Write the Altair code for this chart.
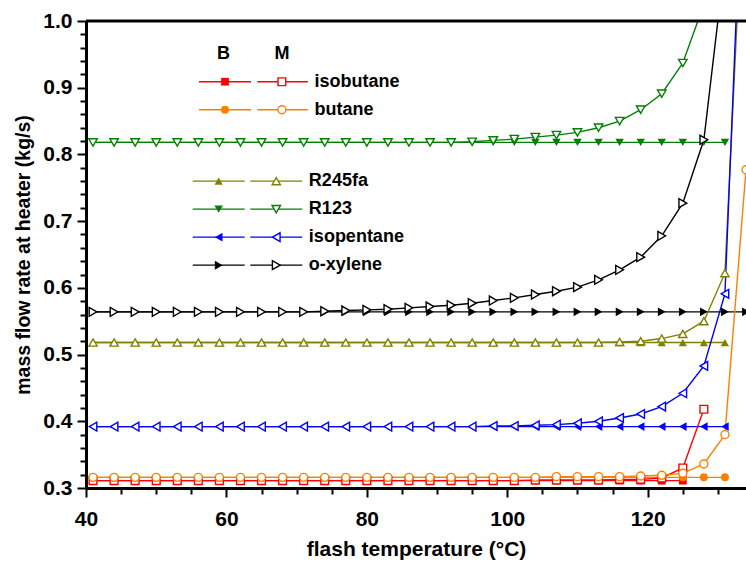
import altair as alt
import pandas as pd

# Flash temperature (°C) of each computed state point
T = [41, 44, 47, 50, 53, 56, 59, 62, 65, 68, 71, 74, 77, 80, 83, 86,
     89, 92, 95, 98, 101, 104, 107, 110, 113, 116, 119, 122, 125, 128, 131, 134]

FLUIDS = ["isobutane", "butane", "R245fa", "R123", "isopentane", "o-xylene"]
COLORS = ["#ff0000", "#ff8000", "#808000", "#008000", "#0000ff", "#000000"]
SHAPES = ["square", "circle", "triangle-up", "triangle-down", "triangle-left", "triangle-right"]

# Mass flow rate at heater (kg/s), basic cycle (B)
isobutane_B = [0.311, 0.311, 0.311, 0.311, 0.311, 0.311, 0.311, 0.311, 0.311, 0.311, 0.311,
               0.311, 0.311, 0.311, 0.311, 0.311, 0.311, 0.311, 0.311, 0.311, 0.311, 0.311,
               0.311, 0.311, 0.311, 0.311, 0.311, 0.311, 0.311, None, None, None]
butane_B = [0.316, 0.316, 0.316, 0.316, 0.316, 0.316, 0.316, 0.316, 0.316, 0.316, 0.316,
            0.316, 0.316, 0.316, 0.316, 0.316, 0.316, 0.316, 0.316, 0.316, 0.316, 0.316,
            0.316, 0.316, 0.316, 0.316, 0.316, 0.316, 0.316, 0.316, 0.316, None]
R245fa_B = [0.518, 0.518, 0.518, 0.518, 0.518, 0.518, 0.518, 0.518, 0.518, 0.518, 0.518,
            0.518, 0.518, 0.518, 0.518, 0.518, 0.518, 0.518, 0.518, 0.518, 0.518, 0.518,
            0.518, 0.518, 0.518, 0.518, 0.518, 0.518, 0.518, 0.518, 0.518, None]
R123_B = [0.818, 0.818, 0.818, 0.818, 0.818, 0.818, 0.818, 0.818, 0.818, 0.818, 0.818,
          0.818, 0.818, 0.818, 0.818, 0.818, 0.818, 0.818, 0.818, 0.818, 0.818, 0.818,
          0.818, 0.818, 0.818, 0.818, 0.818, 0.818, 0.818, 0.818, 0.818, None]
isopentane_B = [0.392, 0.392, 0.392, 0.392, 0.392, 0.392, 0.392, 0.392, 0.392, 0.392, 0.392,
                0.392, 0.392, 0.392, 0.392, 0.392, 0.392, 0.392, 0.392, 0.392, 0.392, 0.392,
                0.392, 0.392, 0.392, 0.392, 0.392, 0.392, 0.392, 0.392, 0.392, None]
oxylene_B = [0.564, 0.564, 0.564, 0.564, 0.564, 0.564, 0.564, 0.564, 0.564, 0.564, 0.564,
             0.564, 0.564, 0.564, 0.564, 0.564, 0.564, 0.564, 0.564, 0.564, 0.564, 0.564,
             0.564, 0.564, 0.564, 0.564, 0.564, 0.564, 0.564, 0.564, 0.564, 0.564]

# Mass flow rate at heater (kg/s), modified cycle (M)
isobutane_M = [0.311, 0.311, 0.311, 0.311, 0.311, 0.311, 0.311, 0.311, 0.311, 0.311, 0.311,
               0.311, 0.311, 0.311, 0.311, 0.311, 0.311, 0.311, 0.311, 0.311, 0.311, 0.312,
               0.312, 0.312, 0.312, 0.313, 0.313, 0.315, 0.330, 0.418, None, None]
butane_M = [0.316, 0.316, 0.316, 0.316, 0.316, 0.316, 0.316, 0.316, 0.316, 0.316, 0.316,
            0.316, 0.316, 0.316, 0.316, 0.316, 0.316, 0.316, 0.316, 0.316, 0.316, 0.316,
            0.317, 0.317, 0.317, 0.317, 0.318, 0.319, 0.322, 0.336, 0.380, 0.777]
R245fa_M = [0.518, 0.518, 0.518, 0.518, 0.518, 0.518, 0.518, 0.518, 0.518, 0.518, 0.518,
            0.518, 0.518, 0.518, 0.518, 0.518, 0.518, 0.518, 0.518, 0.518, 0.518, 0.518,
            0.518, 0.518, 0.518, 0.519, 0.520, 0.524, 0.531, 0.550, 0.622, 1.28]
R123_M = [0.818, 0.818, 0.818, 0.818, 0.818, 0.818, 0.818, 0.818, 0.818, 0.818, 0.818,
          0.818, 0.818, 0.818, 0.818, 0.818, 0.818, 0.818, 0.819, 0.821, 0.823, 0.826,
          0.829, 0.833, 0.840, 0.850, 0.867, 0.891, 0.937, 1.025, None, None]
isopentane_M = [0.392, 0.392, 0.392, 0.392, 0.392, 0.392, 0.392, 0.392, 0.392, 0.392, 0.392,
                0.392, 0.392, 0.392, 0.392, 0.392, 0.392, 0.392, 0.392, 0.393, 0.393, 0.394,
                0.395, 0.397, 0.400, 0.405, 0.411, 0.422, 0.442, 0.483, 0.591, 1.37]
oxylene_M = [0.564, 0.564, 0.564, 0.564, 0.564, 0.564, 0.564, 0.564, 0.564, 0.564, 0.564,
             0.565, 0.566, 0.567, 0.568, 0.570, 0.572, 0.574, 0.577, 0.581, 0.585, 0.590,
             0.595, 0.601, 0.612, 0.627, 0.646, 0.678, 0.727, 0.822, 1.09, None]

SERIES_B = [isobutane_B, butane_B, R245fa_B, R123_B, isopentane_B, oxylene_B]
SERIES_M = [isobutane_M, butane_M, R245fa_M, R123_M, isopentane_M, oxylene_M]

X_TICKS = [40, 45, 50, 55, 60, 65, 70, 75, 80, 85, 90, 95, 100, 105, 110, 115, 120, 125, 130]
Y_TICKS = [0.30, 0.32, 0.34, 0.36, 0.38, 0.40, 0.42, 0.44, 0.46, 0.48, 0.50, 0.52, 0.54,
           0.56, 0.58, 0.60, 0.62, 0.64, 0.66, 0.68, 0.70, 0.72, 0.74, 0.76, 0.78, 0.80,
           0.82, 0.84, 0.86, 0.88, 0.90, 0.92, 0.94, 0.96, 0.98, 1.00]

rows = []
for kind, group in (("B", SERIES_B), ("M", SERIES_M)):
    for fluid, values in zip(FLUIDS, group):
        for t, v in zip(T, values):
            if v is not None:
                rows.append({"fluid": fluid, "cycle": kind, "T": t, "m": v})
df = pd.DataFrame(rows)

FONT = "Liberation Sans"
W, H = 660, 467
X_DOMAIN = [40, 134]
Y_DOMAIN = [0.3, 1.0]

color = alt.Color("fluid:N", scale=alt.Scale(domain=FLUIDS, range=COLORS), legend=None)
shape = alt.Shape("fluid:N", scale=alt.Scale(domain=FLUIDS, range=SHAPES), legend=None)
size_open = alt.Size("fluid:N", scale=alt.Scale(domain=FLUIDS, range=[42, 55, 110, 110, 110, 110]),
                     legend=None)
size_fill = alt.Size("fluid:N", scale=alt.Scale(domain=FLUIDS, range=[60, 80, 150, 150, 150, 150]),
                     legend=None)

MAJOR_Y = "abs(datum.value * 10 - round(datum.value * 10)) < 0.001"

x_axis = alt.Axis(
    values=X_TICKS,
    title="flash temperature (°C)",
    titleFont=FONT, titleFontSize=21, titleFontWeight="bold", titlePadding=9, titleColor="black",
    labelFont=FONT, labelFontSize=21, labelFontWeight="bold", labelColor="black",
    labelExpr="datum.value % 20 === 0 ? datum.label : ''",
    labelPadding=11, labelFlush=False, labelOverlap=False,
    domainColor="black", domainWidth=3,
    tickColor="black", tickWidth=2,
    tickSize={"condition": {"test": "datum.value % 20 === 0", "value": 9}, "value": 6},
    grid=False,
)
y_axis = alt.Axis(
    values=Y_TICKS,
    title="mass flow rate at heater (kg/s)",
    titleFont=FONT, titleFontSize=19.5, titleFontWeight="bold", titlePadding=9, titleColor="black",
    labelFont=FONT, labelFontSize=21, labelFontWeight="bold", labelColor="black",
    labelExpr=MAJOR_Y + " ? format(datum.value, '.1f') : ''",
    labelPadding=5, labelFlush=False, labelOverlap=False,
    domainColor="black", domainWidth=3,
    tickColor="black", tickWidth=2,
    tickSize={"condition": {"test": MAJOR_Y, "value": 9}, "value": 6},
    grid=False,
)


def xq(field):
    return alt.X(f"{field}:Q", scale=alt.Scale(domain=X_DOMAIN, nice=False, zero=False), axis=x_axis)


def yq(field):
    return alt.Y(f"{field}:Q", scale=alt.Scale(domain=Y_DOMAIN, nice=False, zero=False), axis=y_axis)


base = alt.Chart(df).encode(x=xq("T"), y=yq("m"), color=color)

lines = base.mark_line(clip=True, strokeWidth=1.4).encode(detail="cycle:N", order="T:Q")
pts_b = base.transform_filter(alt.datum.cycle == "B").mark_point(
    clip=True, filled=True, opacity=1
).encode(shape=shape, size=size_fill)
pts_m = base.transform_filter(alt.datum.cycle == "M").mark_point(
    clip=True, filled=False, fill="white", opacity=1, strokeWidth=1.4
).encode(shape=shape, size=size_open)

# frame line along the top of the plot
top = alt.Chart(pd.DataFrame({"k": [0]})).mark_rule(color="black", strokeWidth=3).encode(
    x=alt.value(0), x2=alt.value(W), y=alt.value(0)
)

# key: two marker columns (B filled, M open) placed in data units
upper = FLUIDS[:2]
lower = FLUIDS[2:]
key_rows = []
for i, f in enumerate(upper):
    key_rows.append({"fluid": f, "y": 0.909 - i * 0.042, "b0": 56.1, "b1": 63.5, "bm": 59.8,
                     "m0": 64.4, "m1": 71.6, "mm": 67.9, "tx": 72.4})
for i, f in enumerate(lower):
    key_rows.append({"fluid": f, "y": 0.760 - i * 0.042, "b0": 55.2, "b1": 62.6, "bm": 58.9,
                     "m0": 63.4, "m1": 70.8, "mm": 67.1, "tx": 71.6})
key = pd.DataFrame(key_rows)

kbase = alt.Chart(key).encode(y=yq("y"), color=color)
k_lb = kbase.mark_rule(strokeWidth=1.4).encode(x=xq("b0"), x2="b1:Q")
k_lm = kbase.mark_rule(strokeWidth=1.4).encode(x=xq("m0"), x2="m1:Q")
k_pb = kbase.mark_point(filled=True, opacity=1).encode(x=xq("bm"), shape=shape, size=size_fill)
k_pm = kbase.mark_point(filled=False, fill="white", opacity=1, strokeWidth=1.4).encode(
    x=xq("mm"), shape=shape, size=size_open)
k_tx = alt.Chart(key).mark_text(
    align="left", baseline="middle", font=FONT, fontSize=18, fontWeight="bold", color="black", dx=1
).encode(x=xq("tx"), y=yq("y"), text="fluid:N")

heads = pd.DataFrame({"lab": ["B", "M"], "tx": [59.6, 67.9], "y": [0.950, 0.950]})
k_head = alt.Chart(heads).mark_text(
    align="center", baseline="middle", font=FONT, fontSize=18, fontWeight="bold", color="black"
).encode(x=xq("tx"), y=yq("y"), text="lab:N")

chart = alt.layer(
    lines, pts_b, pts_m, top, k_lb, k_lm, k_pb, k_pm, k_tx, k_head
).properties(
    width=W, height=H,
    autosize=alt.AutoSizeParams(type="none"),
    padding={"left": 86, "top": 21, "right": 0, "bottom": 85},
).configure_view(stroke=None).configure(background="white")

chart.save("out.html", embed_options={"renderer": "svg", "actions": False})
